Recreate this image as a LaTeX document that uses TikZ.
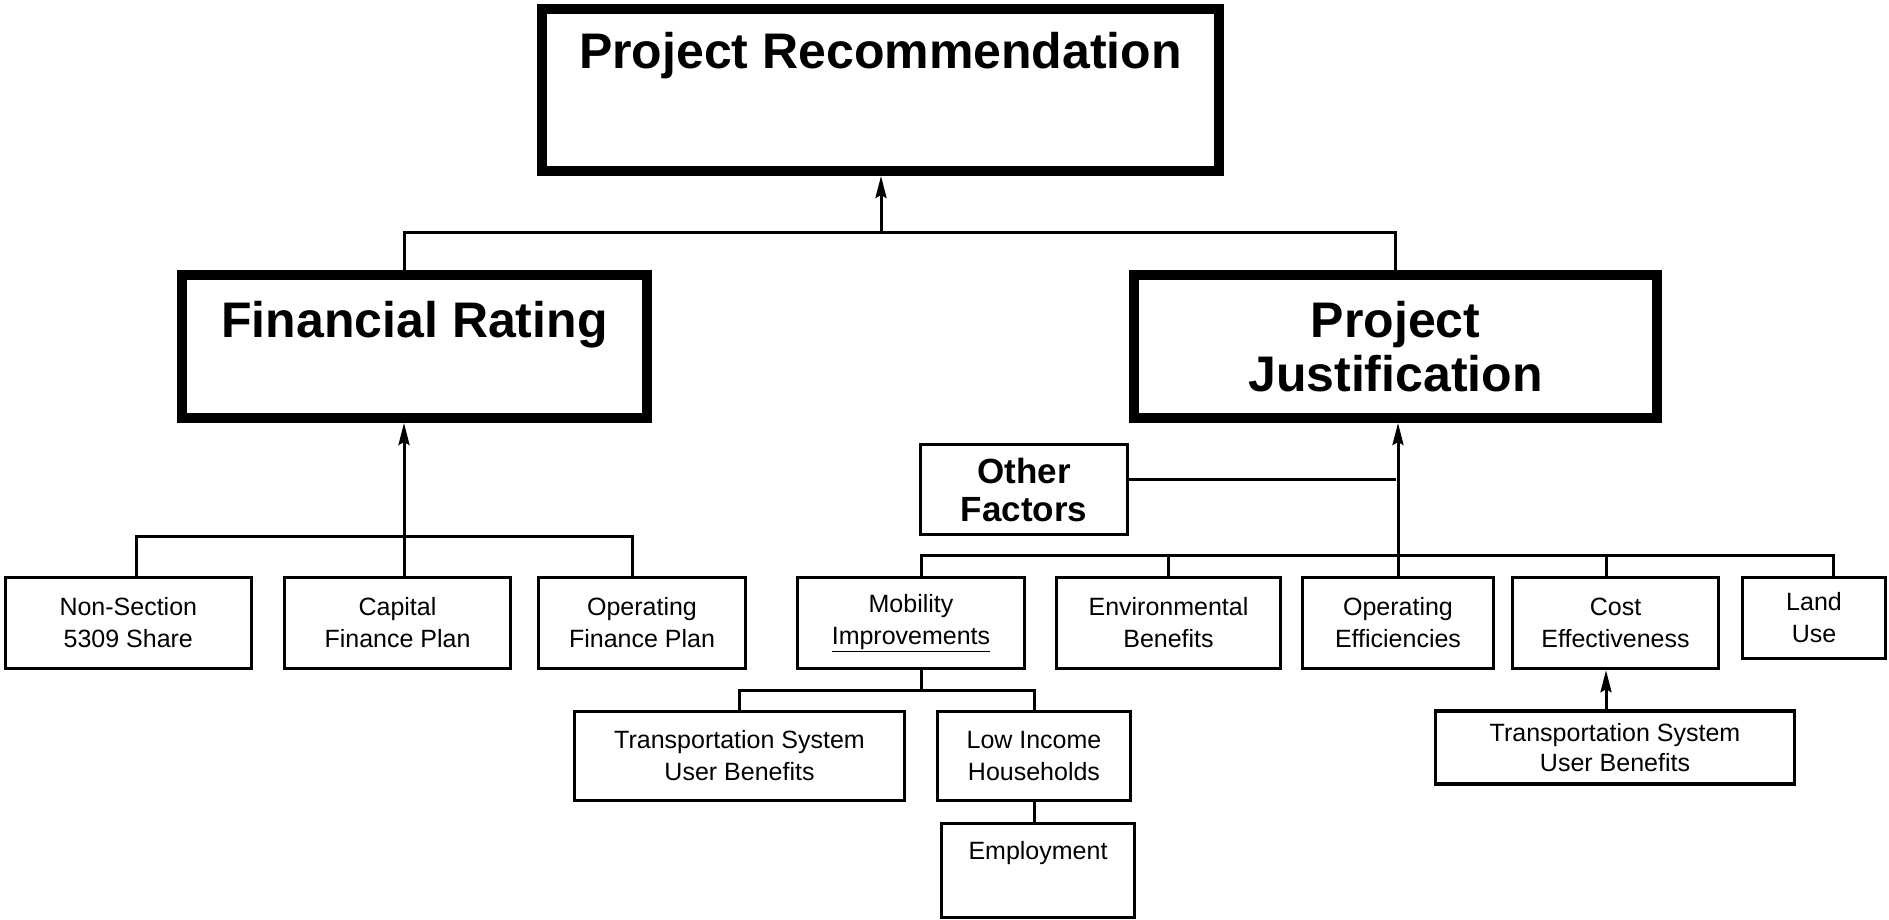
\documentclass[tikz,border=0pt]{standalone}
\usepackage{fontspec}
\setmainfont{Liberation Sans}
\usetikzlibrary{arrows.meta}
\tikzset{
  smallbox/.style={draw, line width=3.5pt, inner sep=0pt, align=center, font=\fontsize{25}{32}\selectfont},
  smalltext/.style={inner sep=0pt, font=\fontsize{25}{32}\selectfont},
  bigbox/.style={draw, line width=10pt, inner sep=0pt},
  bigtitle/.style={inner sep=0pt, anchor=base, font=\fontsize{50}{54}\selectfont\bfseries},
  conn/.style={line width=3pt},
  arr/.style={conn, -{Stealth[length=22pt,width=11pt,inset=3pt]}},
}
\begin{document}
\begin{tikzpicture}[x=1pt,y=-1pt]
\useasboundingbox (0,0) rectangle (1889,919);
% top level
\node[bigbox, minimum width=677pt, minimum height=162pt] (rec) at (880.5,90) {};
\node[bigtitle] (recT) at (880.5,68) {Project Recommendation};
\node[bigbox, minimum width=465pt, minimum height=143pt] (fr) at (414.5,346.5) {};
\node[bigtitle] (frT) at (414.5,337) {Financial Rating};
\node[bigbox, minimum width=523pt, minimum height=143pt, align=center,
      font=\fontsize{50}{54}\selectfont\bfseries] (pj) at (1395.5,346.5) {Project\\Justification};
% left group
\node[smallbox, minimum width=246pt, minimum height=91pt] (ns) at (128.3,623) {Non-Section\\5309 Share};
\node[smallbox, minimum width=226pt, minimum height=91pt] (cfp) at (397.5,623) {Capital\\Finance Plan};
\node[smallbox, minimum width=207pt, minimum height=91pt] (ofp) at (642,623) {Operating\\Finance Plan};
% right group
\node[smallbox, minimum width=207pt, minimum height=90pt,
      font=\fontsize{35}{38}\selectfont\bfseries] (of) at (1024,489.5) {Other\\Factors};
\node[smallbox, minimum width=227pt, minimum height=91pt] (mob) at (911,623) {Mobility\\\underline{Improvements}};
\node[smallbox, minimum width=224pt, minimum height=91pt] (env) at (1168.5,623) {Environmental\\Benefits};
\node[smallbox, minimum width=191pt, minimum height=91pt] (oe) at (1398,623) {Operating\\Efficiencies};
\node[smallbox, minimum width=206pt, minimum height=91pt] (ce) at (1615.5,623) {Cost\\Effectiveness};
\node[smallbox, minimum width=143pt, minimum height=81pt] (lu) at (1814,618) {Land\\Use};
% lower level
\node[smallbox, minimum width=330pt, minimum height=89pt] (tsub) at (739.5,756) {Transportation System\\User Benefits};
\node[smallbox, minimum width=193pt, minimum height=89pt] (li) at (1034,756) {Low Income\\Households};
\node[smallbox, minimum width=193pt, minimum height=94pt] (emp) at (1038,870.3) {};
\node[smalltext, anchor=base] (empT) at (1038,859.5) {Employment};
\node[smallbox, minimum width=359pt, minimum height=73pt, font=\fontsize{25}{30}\selectfont] (tsub2) at (1615,747.5) {Transportation System\\User Benefits};
% connectors top
\coordinate (busTop) at (881,232);
\draw[arr] (busTop) -- (busTop |- rec.south);
\draw[conn] ([xshift=-10.5pt]fr.north) |- (busTop) -| (pj.north);
% left connectors
\coordinate (busL) at (404,536);
\draw[arr] (cfp.north -| busL) -- (busL |- fr.south);
\draw[conn] ([xshift=8pt]ns.north) |- (busL) -| ([xshift=-9.5pt]ofp.north);
% right connectors
\coordinate (busR) at (1397.5,555.4);
\draw[arr] (oe.north) -- (oe.north |- pj.south);
\draw[conn] ([xshift=10.6pt]mob.north) |- (busR) -| ([xshift=19.5pt]lu.north);
\draw[conn] (env.north) -- (env.north |- busR);
\coordinate (ceT) at ([xshift=-9.5pt]ce.north);
\draw[conn] (ceT) -- (ceT |- busR);
\coordinate (ofR) at ([yshift=10pt]of.east);
\draw[conn] (ofR) -- (ofR -| pj.south);
% mobility children
\coordinate (busM) at (921.6,690);
\coordinate (mobB) at ([xshift=10.6pt]mob.south);
\draw[conn] (mobB) -- (mobB |- busM);
\draw[conn] (tsub.north) |- (busM) -| (li.north);
\draw[conn] (li.south) -- (li.south |- emp.north);
% cost effectiveness child
\coordinate (ceB) at ([xshift=-9.5pt]ce.south);
\draw[arr] (ceB |- tsub2.north) -- (ceB);
\end{tikzpicture}
\end{document}
